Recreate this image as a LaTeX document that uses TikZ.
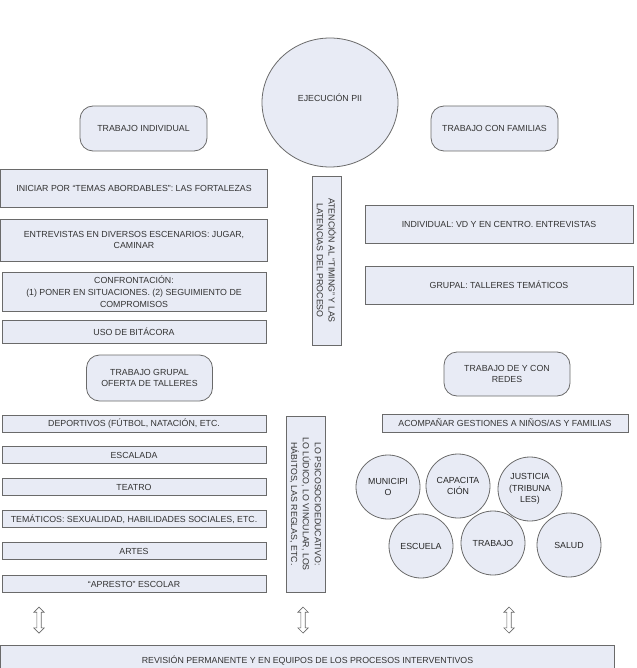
\documentclass[tikz,border=0pt]{standalone}
\usepackage{fontspec}
\setmainfont{Liberation Sans}
\usetikzlibrary{shapes.geometric,shapes.arrows}
\definecolor{boxfill}{HTML}{E8EBF5}
\definecolor{boxline}{HTML}{6A6A6A}
\definecolor{txt}{HTML}{333333}
\begin{document}
\begin{tikzpicture}[x=1pt,y=-1pt,
  every node/.style={font=\fontsize{8.8}{11.8}\selectfont, text=txt},
  box/.style={draw=boxline, fill=boxfill, line width=0.8pt, rectangle, inner sep=0pt, align=center},
  rbox/.style={box, rounded corners=13pt},
  circbox/.style={box, circle, minimum size=64pt, text=black!85},
  dblarrow/.style={double arrow, draw=boxline, fill=white, line width=0.7pt, rotate=90,
    minimum height=26pt, inner sep=1.8pt, double arrow head extend=3pt}]
\useasboundingbox (0,0) rectangle (636,668);
% top
\node[box, ellipse, minimum width=136pt, minimum height=129pt] (ejec) at (330,102.5) {EJECUCIÓN PII\\[-2pt]};
\node[rbox, minimum width=127pt, minimum height=45pt] (tind) at (143.5,128.5) {TRABAJO INDIVIDUAL};
\node[rbox, minimum width=127pt, minimum height=45pt] (tfam) at (494.5,128.5) {TRABAJO CON FAMILIAS};
% left column, individual
\node[box, minimum width=267pt, minimum height=38pt] (b1) at (134,188.5) {INICIAR POR “TEMAS ABORDABLES”: LAS FORTALEZAS};
\node[box, minimum width=267pt, minimum height=42pt] (b2) at (134,240) {ENTREVISTAS EN DIVERSOS ESCENARIOS: JUGAR,\\CAMINAR};
\node[box, minimum width=264pt, minimum height=39pt] (b3) at (134,291.5) {CONFRONTACIÓN:\\(1) PONER EN SITUACIONES. (2) SEGUIMIENTO DE\\COMPROMISOS};
\node[box, minimum width=264pt, minimum height=23pt] (b4) at (134,331.5) {USO DE BITÁCORA};
% middle vertical
\node[box, rotate=-90, minimum width=169pt, minimum height=29pt] (aten) at (326.5,260.5) {ATENCIÓN AL “TIMING” Y LAS\\LATENCIAS DEL PROCESO};
% right column families
\node[box, minimum width=268pt, minimum height=38pt] (ind) at (499,224) {INDIVIDUAL: VD Y EN CENTRO. ENTREVISTAS};
\node[box, minimum width=268pt, minimum height=38pt] (gru) at (499,285) {GRUPAL: TALLERES TEMÁTICOS};
% group work
\node[rbox, minimum width=126pt, minimum height=46pt] (tgr) at (149.5,378) {TRABAJO GRUPAL\\OFERTA DE TALLERES};
\node[box, minimum width=264pt, minimum height=17pt] (l1) at (134,424) {DEPORTIVOS (FÚTBOL, NATACIÓN, ETC.};
\node[box, minimum width=264pt, minimum height=17pt] (l2) at (134,455) {ESCALADA};
\node[box, minimum width=264pt, minimum height=17pt] (l3) at (134,487) {TEATRO};
\node[box, minimum width=264pt, minimum height=17pt] (l4) at (134,519) {TEMÁTICOS: SEXUALIDAD, HABILIDADES SOCIALES, ETC.};
\node[box, minimum width=264pt, minimum height=17pt] (l5) at (134,551) {ARTES};
\node[box, minimum width=264pt, minimum height=17pt] (l6) at (134,584) {“APRESTO” ESCOLAR};
\node[box, rotate=-90, minimum width=176pt, minimum height=39pt] (psico) at (305.5,504) {LO PSICOSOCIOEDUCATIVO:\\LO LÚDICO, LO VINCULAR, LOS\\HÁBITOS, LAS REGLAS, ETC.};
% networks
\node[rbox, minimum width=126pt, minimum height=44pt] (redes) at (507,374) {TRABAJO DE Y CON\\REDES};
\node[box, minimum width=246pt, minimum height=18pt] (acomp) at (505,423) {ACOMPAÑAR GESTIONES A NIÑOS/AS Y FAMILIAS};
\node[circbox] (muni) at (388,487) {MUNICIPI\\O};
\node[circbox] (capa) at (458,486) {CAPACITA\\CIÓN};
\node[circbox] (just) at (530,489) {JUSTICIA\\(TRIBUNA\\LES)};
\node[circbox] (escu) at (421,546) {ESCUELA};
\node[circbox] (trab) at (493,543) {TRABAJO};
\node[circbox] (salu) at (569,545) {SALUD};
% arrows and review
\node[dblarrow] (a1) at (39,620) {};
\node[dblarrow] (a2) at (303,620) {};
\node[dblarrow] (a3) at (509,620) {};
\node[box, minimum width=614pt, minimum height=32pt] (rev) at (307.5,661) {REVISIÓN PERMANENTE Y EN EQUIPOS DE LOS PROCESOS INTERVENTIVOS};
\end{tikzpicture}
\end{document}
